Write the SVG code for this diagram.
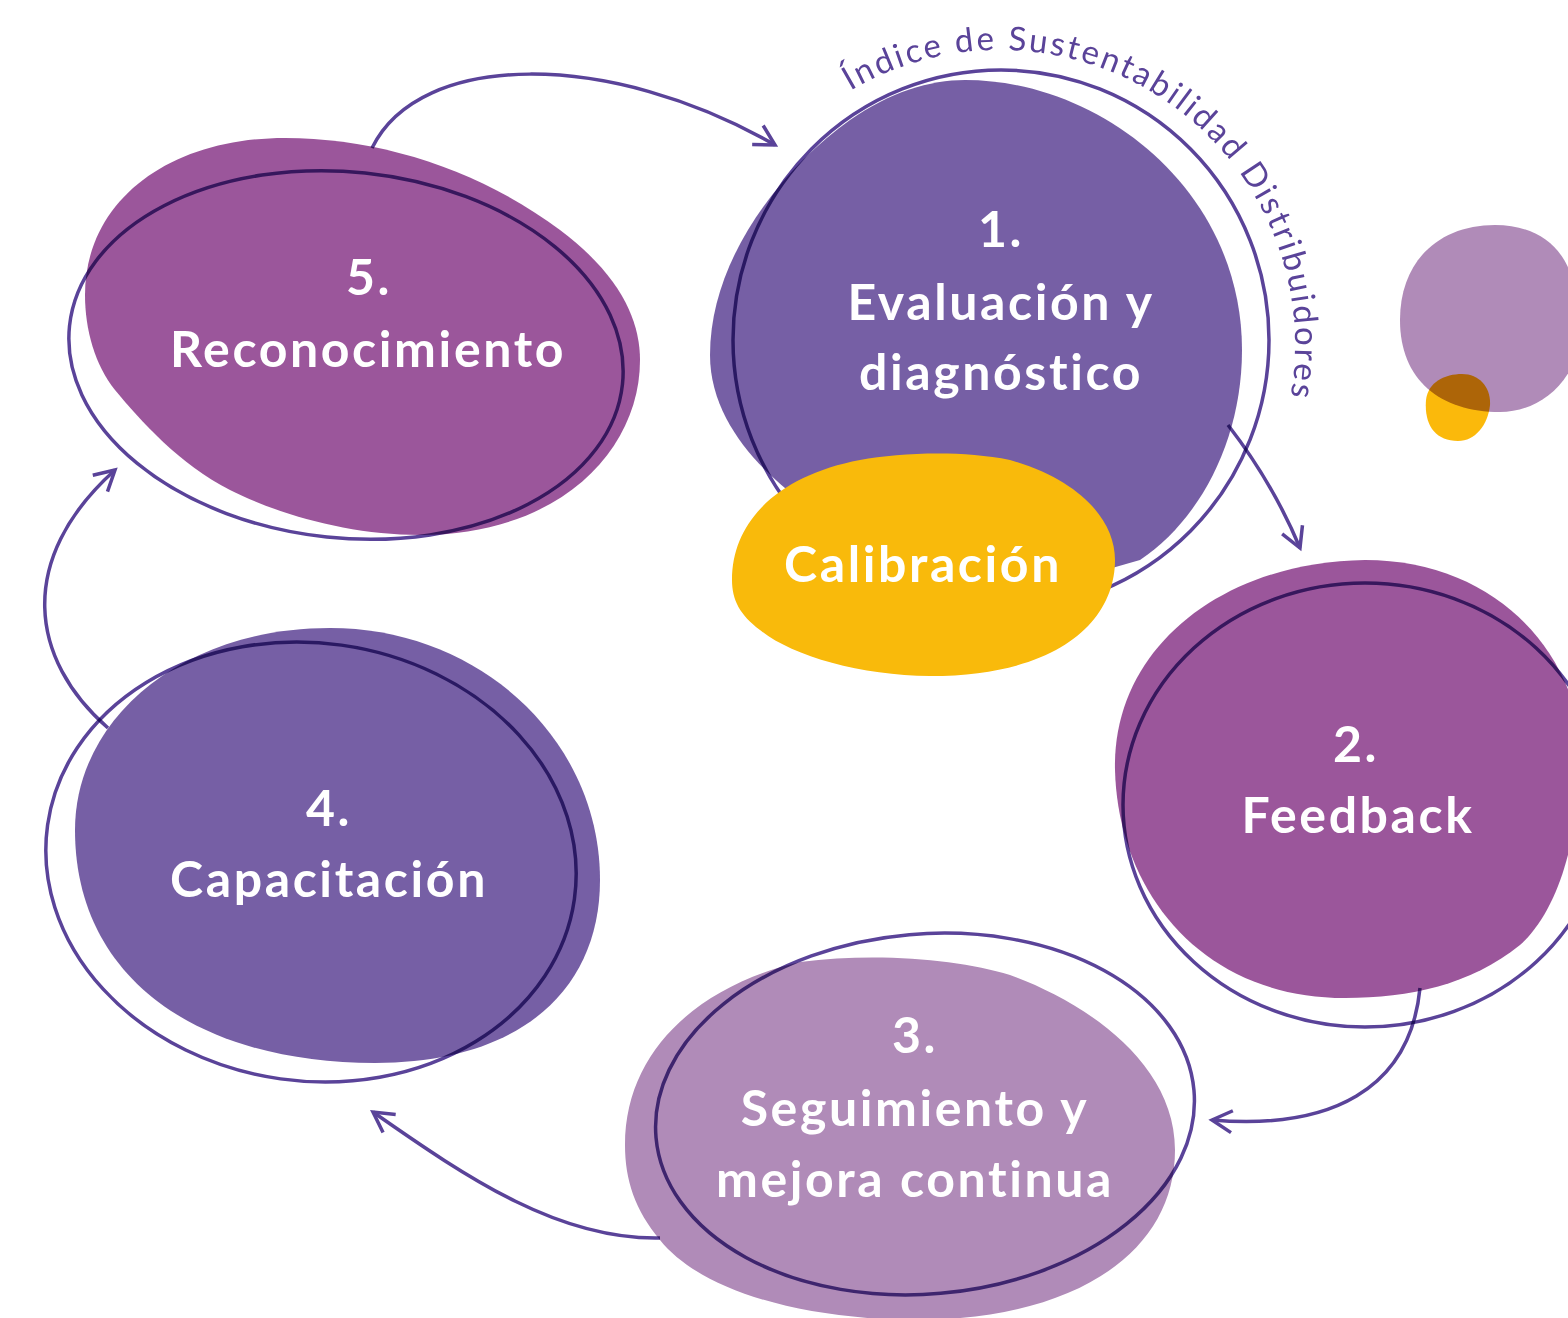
<svg xmlns="http://www.w3.org/2000/svg" width="1568" height="1318" viewBox="0 0 1568 1318">
<defs>
<marker id="arr" markerUnits="userSpaceOnUse" markerWidth="30" markerHeight="30" refX="22" refY="12" orient="auto" viewBox="0 0 30 24">
<path d="M2,1 L22,12 L2,23" fill="none" stroke="#5a4399" stroke-width="3.5"/>
</marker>
<path id="arcText" d="M 850.3 90.8 A 295 295 0 0 1 1290.1 398.7"/>
</defs>
<style>
.outline{fill:none;stroke:#5a4399;stroke-width:3.5;mix-blend-mode:multiply}
.conn{fill:none;stroke:#5a4399;stroke-width:3.5;mix-blend-mode:multiply}
.lbl{font-family:Lato,"Open Sans","Liberation Sans",sans-serif;font-weight:700;font-size:50px;fill:#ffffff;text-anchor:middle;letter-spacing:2.6px}
.arc{font-family:Lato,"Open Sans","Liberation Sans",sans-serif;font-weight:400;font-size:33px;fill:#5a4399}
</style>
<rect width="1568" height="1318" fill="#ffffff"/>

<g id="decor">
<path d="M 1400 320 C 1400 260, 1440 225, 1495 225 C 1540 225, 1568 250, 1575 290 L 1575 360 C 1560 395, 1530 412, 1500 412 C 1440 412, 1400 380, 1400 320 Z" fill="#b08bb8"/>
<path d="M 1426 400 C 1428 382, 1445 374, 1462 374 C 1480 374, 1491 388, 1490 405 C 1488 425, 1475 441, 1458 441 C 1435 441, 1424 425, 1426 400 Z" fill="#fbb90b" style="mix-blend-mode:multiply"/>
</g>

<g id="node-5">
<path d="M 85 295 C 85 200, 170 138, 285 138 C 380 138, 480 170, 560 230 C 620 275, 640 320, 640 360 C 640 450, 560 535, 420 535 C 350 535, 280 515, 230 490 C 180 465, 140 420, 115 390 C 95 365, 85 330, 85 295 Z" fill="#9b569b"/>
<ellipse class="outline" cx="346" cy="355" rx="278" ry="183" transform="rotate(6 346 355)"/>
<text class="lbl" x="369" y="295">5.</text>
<text class="lbl" x="368" y="367">Reconocimiento</text>
</g>

<g id="node-4">
<path d="M 75 830 C 75 720, 180 628, 330 628 C 480 628, 600 740, 600 880 C 600 990, 520 1063, 375 1063 C 200 1063, 75 980, 75 830 Z" fill="#765fa5"/>
<ellipse class="outline" cx="311" cy="862" rx="266" ry="219" transform="rotate(8 311 862)"/>
<text class="lbl" x="329" y="826">4.</text>
<text class="lbl" x="329" y="897">Capacitación</text>
</g>

<g id="node-3">
<path d="M 625 1145 C 625 1050, 700 985, 800 962 C 880 952, 960 960, 1010 975 C 1080 1000, 1175 1060, 1175 1150 C 1175 1250, 1080 1318, 920 1320 C 800 1320, 700 1290, 660 1240 C 635 1210, 625 1180, 625 1145 Z" fill="#b08bb8"/>
<ellipse class="outline" cx="925" cy="1114" rx="270" ry="180" transform="rotate(-5 925 1114)"/>
<text class="lbl" x="915" y="1053">3.</text>
<text class="lbl" x="915" y="1126">Seguimiento y</text>
<text class="lbl" x="915" y="1197">mejora continua</text>
</g>

<g id="node-2">
<path d="M 1115 770 C 1112 650, 1220 562, 1365 560 C 1470 560, 1545 620, 1572 700 C 1590 790, 1570 900, 1520 945 C 1470 985, 1410 998, 1345 998 C 1200 998, 1118 890, 1115 770 Z" fill="#9b569b"/>
<ellipse class="outline" cx="1365" cy="805" rx="242" ry="222"/>
<text class="lbl" x="1356" y="762">2.</text>
<text class="lbl" x="1358" y="833">Feedback</text>
</g>

<g id="node-1">
<path d="M 710 355 C 710 260, 780 170, 850 120 C 890 92, 930 80, 965 80 C 1100 80, 1242 190, 1242 350 C 1242 440, 1200 520, 1140 560 L 1000 600 L 800 500 C 760 470, 710 420, 710 355 Z" fill="#765fa5"/>
<ellipse class="outline" cx="1001" cy="340" rx="268" ry="270"/>
<text class="arc"><textPath href="#arcText" textLength="672" lengthAdjust="spacing">Índice de Sustentabilidad Distribuidores</textPath></text>
<text class="lbl" x="1001" y="247">1.</text>
<text class="lbl" x="1001" y="320">Evaluación y</text>
<text class="lbl" x="1001" y="390">diagnóstico</text>
</g>

<g id="connectors">
<path class="conn" d="M 372 148 C 420 50, 610 50, 775 145" marker-end="url(#arr)"/>
<path class="conn" d="M 1228 425 C 1255 460, 1280 500, 1300 548" marker-end="url(#arr)"/>
<path class="conn" d="M 1420 988 C 1410 1090, 1330 1130, 1212 1120" marker-end="url(#arr)"/>
<path class="conn" d="M 660 1238 C 560 1240, 470 1180, 373 1112" marker-end="url(#arr)"/>
<path class="conn" d="M 108 728 C 30 660, 15 560, 115 470" marker-end="url(#arr)"/>
</g>

<g id="node-calibracion">
<path d="M 732 580 C 732 520, 780 475, 860 460 C 900 453, 960 450, 1010 460 C 1080 480, 1115 520, 1115 560 C 1115 620, 1060 676, 930 676 C 860 676, 790 655, 760 630 C 740 615, 732 600, 732 580 Z" fill="#f9ba0b"/>
<text class="lbl" x="923" y="582">Calibración</text>
</g>
</svg>
